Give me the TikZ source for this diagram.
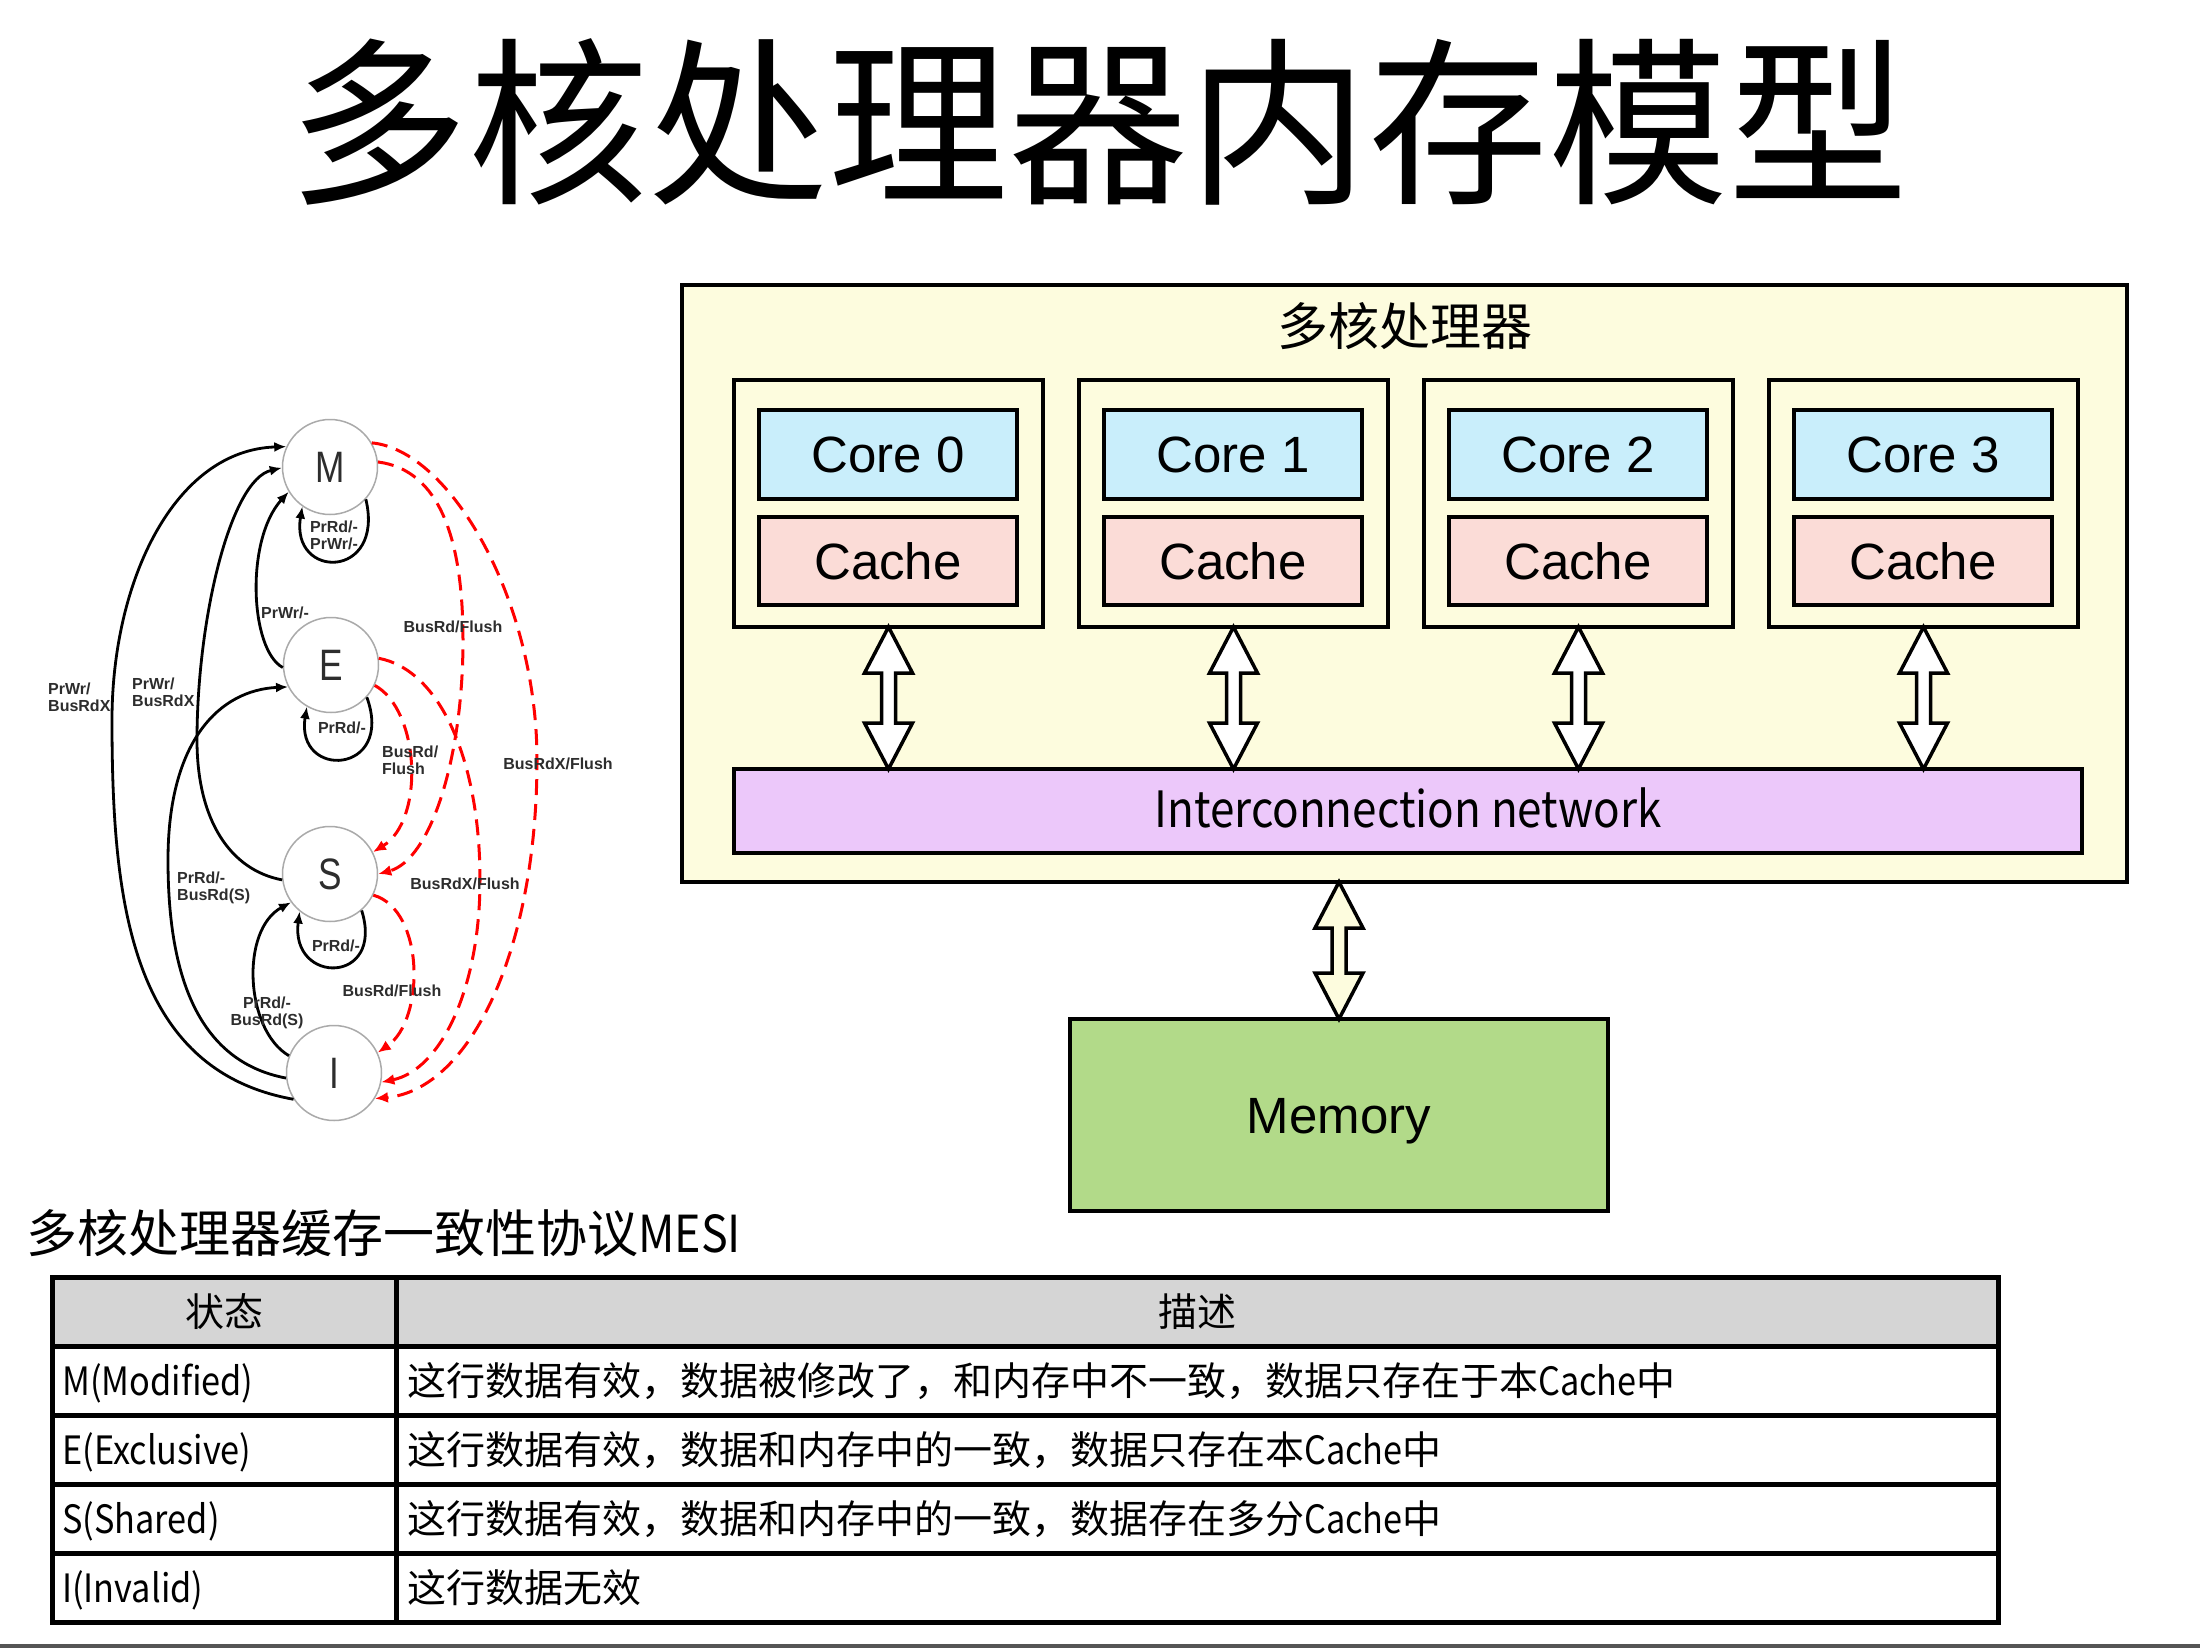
\documentclass[tikz,border=0pt]{standalone}
\usepackage{fontspec}
\setmainfont{Liberation Sans}
\newfontfamily\cjk{Noto Sans CJK SC}
\newfontfamily\lat[FakeStretch=0.88]{Noto Sans CJK SC}
\newfontfamily\narrowsf[FakeStretch=0.8]{Liberation Sans}
\usetikzlibrary{arrows.meta,calc}
\definecolor{cream}{RGB}{253,252,222}
\definecolor{corefill}{RGB}{201,238,251}
\definecolor{cachefill}{RGB}{251,220,215}
\definecolor{netfill}{RGB}{236,200,250}
\definecolor{memfill}{RGB}{178,218,137}
\definecolor{headgray}{RGB}{213,213,213}
\definecolor{labelgray}{RGB}{45,45,45}
\definecolor{ringgray}{RGB}{170,170,170}
\definecolor{stripgray}{RGB}{85,85,85}
\newcommand{\mydblarrow}[3]{%
  \draw[barrow, fill=#3] let \p1=(#1), \p2=(#2) in
    (\x1,\y1) -- (\x1+24pt,\y1-46pt) -- (\x1+7pt,\y1-46pt) -- (\x1+7pt,\y2+46pt)
    -- (\x1+24pt,\y2+46pt) -- (\x1,\y2) -- (\x1-24pt,\y2+46pt) -- (\x1-7pt,\y2+46pt)
    -- (\x1-7pt,\y1-46pt) -- (\x1-24pt,\y1-46pt) -- cycle;}
\begin{document}
\begin{tikzpicture}[x=1pt,y=-1pt,
  boxbase/.style={rectangle, draw=black, line width=3.5pt, inner sep=0pt, outer sep=0pt, anchor=north west},
  outerbox/.style={boxbase, fill=cream},
  groupbox/.style={boxbase, fill=cream, minimum width=309pt, minimum height=247pt},
  corebox/.style={boxbase, fill=corefill, minimum width=258pt, minimum height=89pt,
     font=\fontsize{51}{51}\selectfont, text height=36.5pt, text depth=0pt},
  cachebox/.style={boxbase, fill=cachefill, minimum width=258pt, minimum height=88pt,
     font=\fontsize{51}{51}\selectfont, text height=36.5pt, text depth=0pt},
  netbox/.style={boxbase, fill=netfill, minimum width=1348pt, minimum height=84pt,
     font=\lat\fontsize{50}{50}\selectfont, text height=33pt, text depth=0pt},
  membox/.style={boxbase, fill=memfill, minimum width=538pt, minimum height=192pt,
     font=\fontsize{51}{51}\selectfont, text height=36.5pt, text depth=0pt},
  barrow/.style={draw=black, line width=3.5pt, line join=miter},
  cjktext/.style={inner sep=0pt, font=\cjk\fontsize{#1}{#1}\selectfont},
  tline/.style={draw=black, line width=5pt},
  state/.style={circle, draw=ringgray, line width=1.5pt, fill=white, minimum size=95pt,
     inner sep=0pt, font=\narrowsf\fontsize{44}{44}\selectfont, text=labelgray},
  blk/.style={draw=black, line width=2.8pt, -{Latex[length=12pt,width=10pt]}},
  redd/.style={draw=red, line width=3pt, dash pattern=on 16pt off 9pt, -{Latex[length=13pt,width=11pt]}},
  tlabel/.style={inner sep=0pt, text=labelgray, font=\bfseries\fontsize{16}{17}\selectfont},
]
\useasboundingbox (0,0) rectangle (2200,1648);
\fill[white] (0,0) rectangle (2200,1648);

% title
\node[cjktext=180, anchor=base] (title) at (1098,191) {多核处理器内存模型};

% ---------------- multicore processor ----------------
\node[outerbox, minimum width=1445pt, minimum height=597pt] (proc) at (682,285) {};
\node[cjktext=51, anchor=base] (proclabel) at (1405,345) {多核处理器};
\node[netbox] (net) at (734,769) {Interconnection network};
\foreach \i in {0,1,2,3} {
  \node[groupbox] (g\i) at (734+345*\i,380) {};
  \node[corebox] (c\i) at (759+345*\i,410) {Core \i};
  \node[cachebox] (k\i) at (759+345*\i,517) {Cache};
  \mydblarrow{g\i.south}{g\i.south |- net.north}{white}
}
\node[membox] (mem) at (1070,1019) {Memory};
\mydblarrow{mem.north |- proc.south}{mem.north}{cream}

% ---------------- MESI state diagram ----------------
\node[state] (M) at (330,467) {M};
\node[state] (E) at (331,665) {E};
\node[state] (S) at (330,874) {S};
\node[state] (I) at (334,1073) {I};
\coordinate (viaA) at (112,720);
\coordinate (viaB) at (197,740);
\coordinate (viaC) at (168,860);
\coordinate (viaD) at (537,760);
\coordinate (viaE) at (463,640);
\coordinate (viaF) at (480,880);

% black transitions
\draw[blk] (I.213) .. controls (130,1070) and (112,900) .. (viaA)
   .. controls (112,580) and (175,450) .. (M.155);
\draw[blk] (S.187) .. controls (230,870) and (197,820) .. (viaB)
   .. controls (197,620) and (230,480) .. (M.181);
\draw[blk] (E.183) .. controls (250,650) and (245,540) .. (M.211);
\draw[blk] (I.186) .. controls (190,1060) and (168,960) .. (viaC)
   .. controls (168,740) and (220,690) .. (E.207);
\draw[blk] (I.159) .. controls (245,1030) and (240,930) .. (S.216);
\draw[blk] (M.318) .. controls (385,580) and (290,580) .. (M.235);
\draw[blk] (E.318) .. controls (395,775) and (295,780) .. (E.240);
\draw[blk] (S.311) .. controls (385,985) and (290,985) .. (S.231);

% red dashed transitions
\draw[redd] (M.30) .. controls (450,450) and (537,600) .. (viaD)
   .. controls (537,950) and (470,1090) .. (I.-32);
\draw[redd] (M.6) .. controls (440,470) and (463,540) .. (viaE)
   .. controls (463,760) and (430,860) .. (S.0);
\draw[redd] (E.8) .. controls (440,670) and (480,760) .. (viaF)
   .. controls (480,990) and (440,1070) .. (I.-11);
\draw[redd] (E.-25) .. controls (420,710) and (425,820) .. (S.27);
\draw[redd] (S.-26) .. controls (425,910) and (425,1020) .. (I.25);

% labels
\node[tlabel, anchor=west, align=left] (l1) at (48,697) {PrWr/\\BusRdX};
\node[tlabel, anchor=west, align=left] (l2) at (132,692) {PrWr/\\BusRdX};
\node[tlabel, anchor=west] (l3) at (261,613) {PrWr/-};
\node[tlabel, align=center] (l4) at (334,535) {PrRd/-\\PrWr/-};
\node[tlabel] (l5) at (342,728) {PrRd/-};
\node[tlabel] (l6) at (336,946) {PrRd/-};
\node[tlabel, anchor=west, align=left] (l7) at (177,888) {PrRd/-\\BusRd(S)};
\node[tlabel, align=center] (l8) at (267,1013) {PrRd/-\\BusRd(S)};
\node[tlabel] (l9) at (453,627) {BusRd/Flush};
\node[tlabel] (l10) at (558,764) {BusRdX/Flush};
\node[tlabel, anchor=west, align=left] (l11) at (382,760) {BusRd/\\Flush};
\node[tlabel] (l12) at (465,884) {BusRdX/Flush};
\node[tlabel] (l13) at (392,991) {BusRd/Flush};

% ---------------- caption and table ----------------
\node[cjktext=51, anchor=base west] (caption) at (26,1252) {多核处理器缓存一致性协议{\lat MESI}};

\fill[headgray] (52,1277) rectangle (1998,1346);
\draw[tline] (52,1277) rectangle (1998,1622);
\foreach \yy in {1346,1415,1484,1553} { \draw[tline] (52,\yy) -- (1998,\yy); }
\draw[tline] (396,1277) -- (396,1622);

\node[cjktext=39, anchor=base] (h1) at (224,1326.5) {状态};
\node[cjktext=39, anchor=base] (h2) at (1197,1326.5) {描述};
\node[cjktext=39, anchor=base west] (r1a) at (62,1395.5) {\lat M(Modified)};
\node[cjktext=39, anchor=base west] (r1b) at (407,1395.5) {这行数据有效，数据被修改了，和内存中不一致，数据只存在于本{\lat Cache}中};
\node[cjktext=39, anchor=base west] (r2a) at (62,1464.5) {\lat E(Exclusive)};
\node[cjktext=39, anchor=base west] (r2b) at (407,1464.5) {这行数据有效，数据和内存中的一致，数据只存在本{\lat Cache}中};
\node[cjktext=39, anchor=base west] (r3a) at (62,1533.5) {\lat S(Shared)};
\node[cjktext=39, anchor=base west] (r3b) at (407,1533.5) {这行数据有效，数据和内存中的一致，数据存在多分{\lat Cache}中};
\node[cjktext=39, anchor=base west] (r4a) at (62,1602.5) {\lat I(Invalid)};
\node[cjktext=39, anchor=base west] (r4b) at (407,1602.5) {这行数据无效};

\fill[stripgray] (0,1644) rectangle (2200,1648);
\end{tikzpicture}
\end{document}
